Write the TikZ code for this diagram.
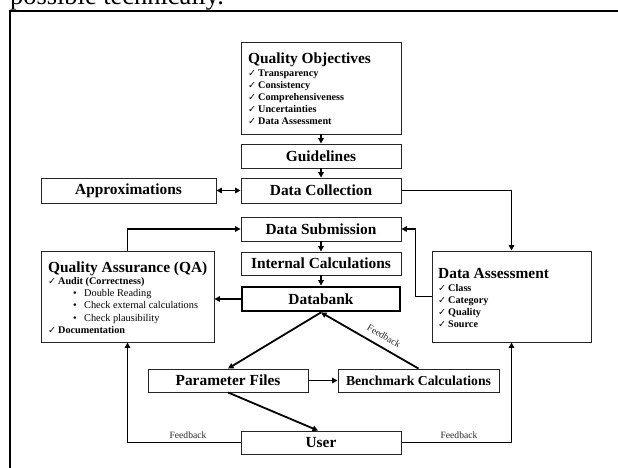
\documentclass[tikz,border=0pt]{standalone}
\usepackage{fontspec}
\setmainfont{Liberation Serif}
\newfontfamily\symfont{DejaVu Sans}
\usetikzlibrary{arrows.meta}
\newcommand{\ck}{{\symfont\bfseries\fontsize{9.5}{9.5}\selectfont ✓}}
\begin{document}
\begin{tikzpicture}[x=1pt,y=-1pt,
  box/.style={draw=black!85, line width=0.9pt, rectangle, inner sep=0pt,
    font=\fontsize{15.4}{16}\selectfont\bfseries},
  conn/.style={line width=1.8pt, -{Triangle[length=5.5pt,width=5.5pt]}},
  dconn/.style={line width=1.8pt, {Triangle[length=5.5pt,width=5.5pt]}-{Triangle[length=5.5pt,width=5.5pt]}},
  ttl/.style={anchor=base west, inner sep=0pt, font=\fontsize{15.4}{16}\selectfont\bfseries},
  itm/.style={anchor=base west, inner sep=0pt, font=\fontsize{10.2}{11}\selectfont\bfseries},
  bul/.style={anchor=base west, inner sep=0pt, font=\fontsize{10.3}{11}\selectfont},
  fb/.style={inner sep=0pt, font=\fontsize{9.6}{10}\selectfont, text=black!85}
]
\useasboundingbox (0,0) rectangle (618,467);
% page fragment and frame
\node[anchor=base west, inner sep=0pt, font=\fontsize{26.4}{28}\selectfont] (ptxt) at (10,4) {possible technically.};
\draw[line width=2.5pt] (10,480) -- (10,11) -- (640,11);

% boxes
\node[box, minimum width=160, minimum height=92] (qo) at (321,88) {};
\node[box, minimum width=160, minimum height=24] (gl) at (321,156) {Guidelines};
\node[box, minimum width=160, minimum height=25] (dc) at (321,190.5) {Data Collection};
\node[box, minimum width=175, minimum height=25] (ap) at (128.5,190.5) {Approximations};
\node[box, minimum width=160, minimum height=24] (ds) at (321,229) {Data Submission};
\node[box, minimum width=160, minimum height=23] (ic) at (321,263.5) {Internal Calculations};
\node[box, line width=2.8pt, draw=black, minimum width=158, minimum height=24] (db) at (321,299) {Databank};
\node[box, minimum width=173, minimum height=91] (qa) at (127.5,296.5) {};
\node[box, minimum width=159, minimum height=91] (da) at (511.5,296.5) {};
\node[box, minimum width=160, minimum height=23] (pf) at (228,380.5) {Parameter Files};
\node[box, minimum width=161, minimum height=23, font=\fontsize{13.7}{14}\selectfont\bfseries] (bc) at (418.5,380.5) {Benchmark Calculations};
\node[box, minimum width=160, minimum height=23] (us) at (321,442.5) {User};

% Quality Objectives content
\node[ttl] (qot) at (248,63) {Quality Objectives};
\foreach \t [count=\i from 0] in {Transparency,Consistency,Comprehensiveness,Uncertainties,Data Assessment}{
  \node[itm] (qoc\i) at (248,76+12.2*\i) {\ck};
  \node[itm] (qoi\i) at (258,76+12.2*\i) {\t};
}

% Quality Assurance content
\node[ttl] (qat) at (48,272) {Quality Assurance (QA)};
\node[itm] (qac1) at (48,284.5) {\ck};
\node[itm] (qai1) at (58,284.5) {Audit (Correctness)};
\node[bul] (qab1) at (73,296.7) {•};
\node[bul] (qaj1) at (84,296.7) {Double Reading};
\node[bul] (qab2) at (73,308.9) {•};
\node[bul] (qaj2) at (84,308.9) {Check external calculations};
\node[bul] (qab3) at (73,321.1) {•};
\node[bul] (qaj3) at (84,321.1) {Check plausibility};
\node[itm] (qac2) at (48,333.3) {\ck};
\node[itm] (qai2) at (58,333.3) {Documentation};

% Data Assessment content
\node[ttl] (dat) at (438,278) {Data Assessment};
\foreach \t [count=\i from 0] in {Class,Category,Quality,Source}{
  \node[itm] (dac\i) at (438,291.5+12*\i) {\ck};
  \node[itm] (dai\i) at (448,291.5+12*\i) {\t};
}

% connectors
\draw[conn] (qo.south) -- (gl.north);
\draw[conn] (gl.south) -- (dc.north);
\draw[dconn] (ap.east) -- (dc.west);
\draw[conn] (dc.east) -| (da.north);
\draw[conn] (da.west) -- ++(-16,0) |- (ds.east);
\draw[conn] (ds.south) -- (ic.north);
\draw[conn] (ic.south) -- (db.north);
\draw[conn] (db.west) -- (db.west -| qa.east);
\draw[conn] (qa.north) |- (ds.west);
\draw[conn] (db.south) -- (pf.north);
\draw[conn] (bc.north) -- (db.south);
\draw[conn] (pf.east) -- (bc.west);
\draw[conn] (pf.south) -- ([xshift=-3pt]us.north);
\draw[conn] (us.west) -| (qa.south);
\draw[conn] (us.east) -| (da.south);

% labels
\node[fb, rotate=-30.3] (fb1) at (384,336) {Feedback};
\node[fb] (fb2) at (188,435) {Feedback};
\node[fb] (fb3) at (459,435) {Feedback};
\end{tikzpicture}
\end{document}
